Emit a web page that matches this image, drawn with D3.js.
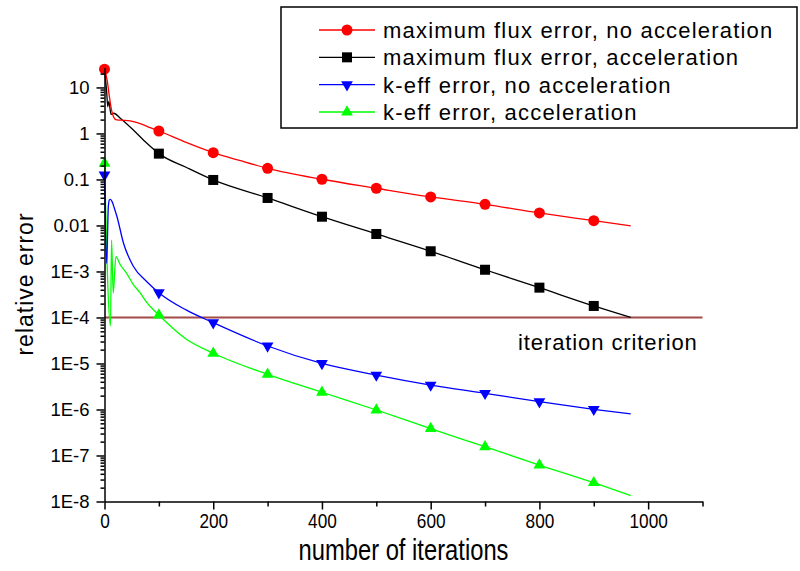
<!DOCTYPE html>
<meta charset="utf-8">
<title>Relative error vs iterations</title>
<style>
body { margin: 0; background: #fff; }
text { font-family: "Liberation Sans", Arial, sans-serif; fill: #000; }
.narrow { transform-box: fill-box; transform-origin: center; transform: scaleX(0.82); }
</style>
<script src="https://d3js.org/d3.v7.min.js"></script>
<div id="chart"></div>
<script>

// iterations / relative errors
var fluxNoAccIter = [0, 5, 9, 13, 16, 19, 23, 35, 47, 60, 72, 84, 100, 150, 200, 250, 300, 400, 500, 600, 700, 800, 900, 968];
var fluxNoAccErr  = [24.9, 14, 6.3, 3.2, 2.4, 2.07, 1.97, 1.93, 1.87, 1.72, 1.53, 1.34, 1.13, 0.64, 0.383, 0.256, 0.175, 0.101, 0.0644, 0.0417, 0.0288, 0.0187, 0.0127, 0.00975];

var fluxAccIter = [0, 4, 6, 8, 12, 17, 29, 53, 78, 100, 150, 200, 300, 400, 500, 600, 700, 800, 900, 968];
var fluxAccErr  = [24.9, 8, 3.8, 5, 2.6, 2.75, 2.14, 1.19, 0.61, 0.364, 0.184, 0.0975, 0.0396, 0.0155, 0.00653, 0.00275, 0.00109, 4.45e-4, 1.78e-4, 1.0e-4];

var keffNoAccIter = [0, 4, 7, 9, 11, 14, 18, 23, 35, 53, 78, 100, 150, 200, 300, 400, 500, 600, 700, 800, 900, 968];
var keffNoAccErr  = [0.125, 0.0015, 0.025, 0.036, 0.037, 0.033, 0.024, 0.0155, 0.0041, 0.0013, 6.0e-4, 3.46e-4, 1.46e-4, 7.7e-5, 2.4e-5, 1.0e-5, 5.6e-6, 3.4e-6, 2.25e-6, 1.48e-6, 1.01e-6, 8.0e-7];

var keffAccIter = [0, 11, 13, 16, 21, 29, 41, 53, 65, 78, 100, 150, 200, 300, 400, 500, 600, 700, 800, 900, 968];
var keffAccErr  = [0.225, 6.5e-5, 0.0048, 3.4e-4, 0.0021, 0.0014, 9e-4, 5.2e-4, 3.5e-4, 2.1e-4, 1.13e-4, 3.4e-5, 1.67e-5, 5.8e-6, 2.37e-6, 9.75e-7, 3.83e-7, 1.55e-7, 6.2e-8, 2.56e-8, 1.34e-8];

// iterations carrying a symbol (the flux/acc start point is hidden under the red one)
var markerIters = [0, 100, 200, 300, 400, 500, 600, 700, 800, 900];
var fluxAccMarkerIters = [100, 200, 300, 400, 500, 600, 700, 800, 900];
var criterion = 1e-4;

var seriesNames = ["maximum flux error, no acceleration", "maximum flux error, acceleration",
                   "k-eff error, no acceleration", "k-eff error, acceleration"];
var seriesColors = ["#ff0000", "#000000", "#0000ff", "#00ff00"];
var seriesShapes = ["circle", "square", "down", "up"];

var xTicks = [0, 200, 400, 600, 800, 1000];
var xMinorTicks = [100, 300, 500, 700, 900, 1100];
var yTicks = [1e-8, 1e-7, 1e-6, 1e-5, 1e-4, 1e-3, 0.01, 0.1, 1, 10];
var yTickLabels = ["1E-8", "1E-7", "1E-6", "1E-5", "1E-4", "1E-3", "0.01", "0.1", "1", "10"];

var width = 800, height = 571;

var svg = d3.select("#chart").append("svg")
    .attr("width", width)
    .attr("height", height);

var x = d3.scaleLinear().domain([0, 1100]).range([104.5, 702.5]);
var y = d3.scaleLog().domain([1e-8, 27]).range([501.5, 67.6]);

var series = [
  {iter: fluxNoAccIter, err: fluxNoAccErr, marks: markerIters},
  {iter: fluxAccIter, err: fluxAccErr, marks: fluxAccMarkerIters},
  {iter: keffNoAccIter, err: keffNoAccErr, marks: markerIters},
  {iter: keffAccIter, err: keffAccErr, marks: markerIters}
].map(function(s, i) {
  return {
    name: seriesNames[i], color: seriesColors[i], shape: seriesShapes[i], marks: s.marks,
    points: s.iter.map(function(t, j) { return [t, s.err[j]]; })
  };
});

// criterion line
svg.append("line")
    .attr("x1", x(0)).attr("x2", x(1100))
    .attr("y1", y(criterion)).attr("y2", y(criterion))
    .attr("stroke", "#a34a4a")
    .attr("stroke-width", 2);

svg.append("text")
    .attr("x", 518).attr("y", 350)
    .style("font-size", "22px")
    .style("letter-spacing", "0.9px")
    .text("iteration criterion");

var line = d3.line()
    .x(function(d) { return x(d[0]); })
    .y(function(d) { return y(d[1]); })
    .curve(d3.curveMonotoneX);

function marker(sel, shape, color) {
  if (shape == "circle") {
    sel.append("circle").attr("r", 5.5).attr("fill", color);
  } else if (shape == "square") {
    sel.append("rect").attr("x", -5).attr("y", -5).attr("width", 10).attr("height", 10).attr("fill", color);
  } else {
    sel.append("path")
        .attr("d", d3.symbol(d3.symbolTriangle, 60)())
        .attr("transform", shape == "down" ? "rotate(180)" : null)
        .attr("fill", color);
  }
}

// draw back to front: k-eff acc, k-eff no acc, flux acc, flux no acc
[3, 2, 1, 0].forEach(function(i) {
  var s = series[i];
  svg.append("path")
      .datum(s.points)
      .attr("fill", "none")
      .attr("stroke", s.color)
      .attr("stroke-width", 1.3)
      .attr("d", line);
  s.points.filter(function(d) { return s.marks.indexOf(d[0]) != -1; })
    .forEach(function(d) {
      var g = svg.append("g").attr("transform", "translate(" + x(d[0]) + "," + y(d[1]) + ")");
      marker(g, s.shape, s.color);
    });
});

// axes
var yMinor = [];
yTicks.forEach(function(dec) {
  d3.range(2, 10).forEach(function(m) {
    if (m * dec <= y.domain()[1]) yMinor.push(m * dec);
  });
});

var gy = svg.append("g")
    .attr("transform", "translate(" + x(0) + ",0)")
    .call(d3.axisLeft(y).tickValues(yTicks)
      .tickFormat(function(d, i) { return yTickLabels[i]; })
      .tickSize(8).tickSizeOuter(0).tickPadding(7));
gy.selectAll("text").style("font-size", "18.5px");

svg.append("g")
    .attr("transform", "translate(" + x(0) + ",0)")
    .call(d3.axisLeft(y).tickValues(yMinor).tickFormat("").tickSize(4).tickSizeOuter(0))
    .call(function(g) { g.select(".domain").remove(); });

var gx = svg.append("g")
    .attr("transform", "translate(0," + y(1e-8) + ")")
    .call(d3.axisBottom(x).tickValues(xTicks).tickFormat(d3.format("d"))
      .tickSize(8).tickSizeOuter(0).tickPadding(4));
gx.selectAll("text").attr("class", "narrow").style("font-size", "21px");

svg.append("g")
    .attr("transform", "translate(0," + y(1e-8) + ")")
    .call(d3.axisBottom(x).tickValues(xMinorTicks).tickFormat("").tickSize(5).tickSizeOuter(0))
    .call(function(g) { g.select(".domain").remove(); });

svg.selectAll(".domain, .tick line").attr("stroke-width", 1.5);

// axis titles
svg.append("text")
    .attr("class", "narrow")
    .attr("x", (x(0) + x(1100)) / 2).attr("y", 560)
    .attr("text-anchor", "middle")
    .style("font-size", "29px")
    .text("number of iterations");

svg.append("text")
    .attr("transform", "translate(33,284) rotate(-90)")
    .attr("text-anchor", "middle")
    .style("font-size", "23px")
    .style("letter-spacing", "1px")
    .text("relative error");

// legend
var legend = svg.append("g");
legend.append("rect")
    .attr("x", 281).attr("y", 7)
    .attr("width", 516).attr("height", 121)
    .attr("fill", "#fff")
    .attr("stroke", "#000")
    .attr("stroke-width", 1.5);

var rowY = d3.scalePoint().domain(d3.range(4)).range([30, 112]);

series.forEach(function(s, i) {
  var ly = rowY(i);
  legend.append("line")
      .attr("x1", 319).attr("x2", 375)
      .attr("y1", ly).attr("y2", ly)
      .attr("stroke", s.color).attr("stroke-width", 1.3);
  marker(legend.append("g").attr("transform", "translate(347," + ly + ")"), s.shape, s.color);
  legend.append("text")
      .attr("x", 383).attr("y", ly + 8)
      .style("font-size", "22px")
      .style("letter-spacing", "1.2px")
      .text(s.name);
});

</script>
